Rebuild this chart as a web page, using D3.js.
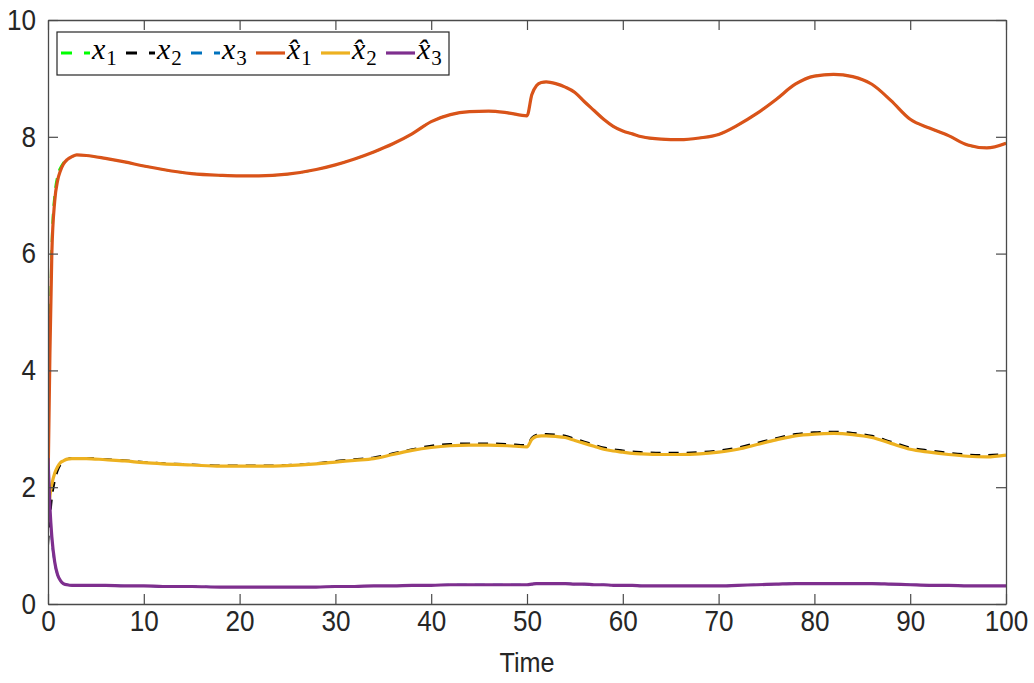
<!DOCTYPE html>
<html><head><meta charset="utf-8">
<script src="https://cdn.jsdelivr.net/npm/d3@7"></script>
<style>
html,body{margin:0;padding:0;background:#fff;}
svg{display:block;}
</style></head>
<body>
<svg id="chart" width="1034" height="683"></svg>
<script>
const time = [0,0.2,0.4,0.7,1,1.3,1.6,2,2.5,3,4,6,8,10,12,15,18,20,22,25,28,30,32,34,36,38,40,42,44,46,48,50,50.5,51,51.5,52,53,54,55,56,57,58,59,60,61,62,64,66,68,70,72,74,76,78,80,82,84,86,88,90,92,94,96,98,100];

const x1 = [2.5,4.8,6.3,7.05,7.35,7.48,7.56,7.62,7.66,7.69,7.68,7.63,7.57,7.5,7.44,7.37,7.34,7.33,7.33,7.36,7.44,7.52,7.62,7.74,7.88,8.05,8.26,8.38,8.43,8.44,8.41,8.36,8.72,8.88,8.93,8.94,8.91,8.85,8.76,8.6,8.45,8.3,8.18,8.1,8.05,8.0,7.96,7.95,7.98,8.04,8.2,8.4,8.64,8.9,9.04,9.07,9.03,8.9,8.62,8.3,8.15,8.02,7.86,7.81,7.89];
const x2 = [1.0,1.45,1.8,2.1,2.28,2.38,2.44,2.48,2.5,2.5,2.5,2.48,2.46,2.43,2.41,2.39,2.37,2.37,2.37,2.38,2.41,2.45,2.48,2.51,2.58,2.65,2.71,2.74,2.75,2.75,2.74,2.72,2.85,2.9,2.91,2.91,2.9,2.88,2.83,2.78,2.73,2.68,2.65,2.63,2.61,2.6,2.59,2.59,2.6,2.63,2.68,2.76,2.84,2.91,2.94,2.95,2.93,2.88,2.78,2.68,2.63,2.59,2.56,2.55,2.57];
const x3 = [2.5,1.6,1.1,0.7,0.49,0.39,0.35,0.33,0.32,0.32,0.32,0.32,0.31,0.31,0.3,0.3,0.29,0.29,0.29,0.29,0.29,0.3,0.3,0.31,0.31,0.32,0.32,0.33,0.33,0.33,0.33,0.33,0.34,0.35,0.35,0.35,0.35,0.35,0.34,0.34,0.33,0.33,0.32,0.32,0.32,0.31,0.31,0.31,0.31,0.31,0.32,0.33,0.34,0.35,0.35,0.35,0.35,0.35,0.34,0.33,0.32,0.32,0.31,0.31,0.31];

const xh1 = [2.0,4.3,6.0,6.9,7.25,7.42,7.53,7.61,7.66,7.69,7.68,7.63,7.57,7.5,7.44,7.37,7.34,7.33,7.33,7.36,7.44,7.52,7.62,7.74,7.88,8.05,8.26,8.38,8.43,8.44,8.41,8.36,8.72,8.88,8.93,8.94,8.91,8.85,8.76,8.6,8.45,8.3,8.18,8.1,8.05,8.0,7.96,7.95,7.98,8.04,8.2,8.4,8.64,8.9,9.04,9.07,9.03,8.9,8.62,8.3,8.15,8.02,7.86,7.81,7.89];
const xh2 = [1.4,1.85,2.05,2.24,2.35,2.42,2.45,2.48,2.49,2.49,2.49,2.47,2.45,2.42,2.4,2.38,2.36,2.36,2.36,2.37,2.4,2.43,2.46,2.49,2.56,2.63,2.68,2.71,2.72,2.72,2.71,2.69,2.82,2.87,2.88,2.88,2.87,2.85,2.8,2.75,2.7,2.65,2.62,2.6,2.58,2.57,2.56,2.56,2.57,2.6,2.65,2.73,2.81,2.88,2.91,2.92,2.9,2.85,2.75,2.65,2.6,2.56,2.53,2.52,2.55];
const xh3 = [2.5,1.66,1.15,0.72,0.5,0.4,0.35,0.33,0.32,0.32,0.32,0.32,0.31,0.31,0.3,0.3,0.29,0.29,0.29,0.29,0.29,0.3,0.3,0.31,0.31,0.32,0.32,0.33,0.33,0.33,0.33,0.33,0.34,0.35,0.35,0.35,0.35,0.35,0.34,0.34,0.33,0.33,0.32,0.32,0.32,0.31,0.31,0.31,0.31,0.31,0.32,0.33,0.34,0.35,0.35,0.35,0.35,0.35,0.34,0.33,0.32,0.32,0.31,0.31,0.31];

const xTicks = [0,10,20,30,40,50,60,70,80,90,100];
const yTicks = [0,2,4,6,8,10];
const legendNames = ["x","x","x","x\u0302","x\u0302","x\u0302"];
const legendSubs = ["1","2","3","1","2","3"];
const xLabel = "Time";

const series = [
  {v:x1, color:"#00FF00", dash:"10,8"},
  {v:x2, color:"#000000", dash:"10,8"},
  {v:x3, color:"#0072BD", dash:"10,8"},
  {v:xh1, color:"#D95319", dash:null},
  {v:xh2, color:"#EDB120", dash:null},
  {v:xh3, color:"#7E2F8E", dash:null}
];

const svg = d3.select("#chart");
const L=48, R=1006, T=20, B=604;
const xs = d3.scaleLinear().domain([0,100]).range([L,R]);
const ys = d3.scaleLinear().domain([0,10]).range([B,T]);
const SX = 0.9; // horizontal condensation of tick text

svg.append("defs").append("clipPath").attr("id","clip")
  .append("rect").attr("x",L).attr("y",T).attr("width",R-L).attr("height",B-T);

const tickFont = "'Liberation Sans',Arial,sans-serif";
const axColor = "#4a4a4a";

// plotting
const lineGen = d3.line().curve(d3.curveMonotoneX);
const g = svg.append("g").attr("clip-path","url(#clip)");
series.forEach(s=>{
  g.append("path")
    .attr("d", lineGen(time.map((t,i)=>[xs(t), ys(s.v[i])])))
    .attr("fill","none").attr("stroke",s.color)
    .attr("stroke-width", s.dash ? 2 : 3.2)
    .attr("stroke-dasharray", s.dash)
    .attr("stroke-linejoin","round");
});

// axes (box with inward ticks on all sides)
const axB = d3.axisBottom(xs).tickValues(xTicks).tickSizeInner(-10).tickSizeOuter(0).tickPadding(6);
const axT = d3.axisTop(xs).tickValues(xTicks).tickSizeInner(-10).tickSizeOuter(0).tickFormat("");
const axL = d3.axisLeft(ys).tickValues(yTicks).tickSizeInner(-10).tickSizeOuter(0).tickPadding(12);
const axR = d3.axisRight(ys).tickValues(yTicks).tickSizeInner(-10).tickSizeOuter(0).tickFormat("");

function styleAxis(sel){
  sel.attr("font-family",null).attr("font-size",null);
  sel.selectAll("path.domain").attr("stroke",axColor).attr("stroke-width",1.3);
  sel.selectAll(".tick line").attr("stroke",axColor).attr("stroke-width",1.2);
  sel.selectAll(".tick text").attr("fill","#262626").style("font-family",tickFont).style("font-size","29px")
    .each(function(){
      const t = d3.select(this);
      const xv = +(t.attr("x")||0);
      t.attr("x", xv/SX).attr("transform",`scale(${SX},1)`);
    });
}
svg.append("g").attr("transform",`translate(0,${B})`).call(axB).call(styleAxis);
svg.append("g").attr("transform",`translate(0,${T})`).call(axT).call(styleAxis);
svg.append("g").attr("transform",`translate(${L},0)`).call(axL).call(styleAxis);
svg.append("g").attr("transform",`translate(${R},0)`).call(axR).call(styleAxis);

// x label
svg.append("g").attr("transform",`translate(${(L+R)/2},672) scale(${SX},1)`)
  .append("text").attr("x",0).attr("y",0).attr("text-anchor","middle")
  .style("font-family",tickFont).style("font-size","28px").attr("fill","#262626").text(xLabel);

// legend
const lg = svg.append("g");
lg.append("rect").attr("x",57).attr("y",32).attr("width",392).attr("height",43)
  .attr("fill","#fff").attr("stroke","#262626").attr("stroke-width",1.2);
series.forEach((s,i)=>{
  const x0 = 61 + i*65;
  lg.append("line").attr("x1",x0).attr("x2",x0+29).attr("y1",53).attr("y2",53)
    .attr("stroke",s.color).attr("stroke-width", s.dash?3:3.2)
    .attr("stroke-dasharray", s.dash ? "11,12" : null);
  const t = lg.append("text").attr("x",x0+31).attr("y",59)
    .style("font-family","'Liberation Serif','DejaVu Serif',serif").attr("fill","#000");
  t.append("tspan").style("font-style","italic").style("font-size","30px").text(legendNames[i]);
  t.append("tspan").attr("dy",6).attr("dx",1).style("font-size","21px").text(legendSubs[i]);
});
</script>
</body></html>
